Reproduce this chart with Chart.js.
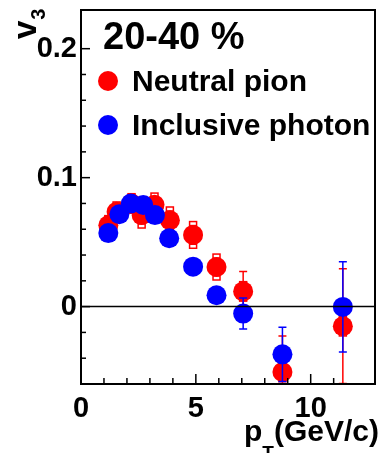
<!DOCTYPE html>
<html>
<head>
<meta charset="utf-8">
<script src="https://cdn.jsdelivr.net/npm/chart.js@4/dist/chart.umd.min.js"></script>
<style>
  html, body { margin: 0; padding: 0; background: #fff; }
  #wrap { width: 386px; height: 453px; }
</style>
</head>
<body>
<div id="wrap"><canvas id="v3Chart"></canvas></div>
<script>
// neutral pion v3 (20-40 %)
var pionPt = [1.19, 1.55, 2.2, 2.64, 3.2, 3.87, 4.88, 5.9, 7.06, 8.77, 11.4];
var pionV3 = [0.063, 0.0736, 0.080, 0.071, 0.079, 0.067, 0.0556, 0.0307, 0.0118, -0.0507, -0.0152];
var pionErr = [0.002, 0.002, 0.002, 0.002, 0.002, 0.003, 0.003, 0.004, 0.0154, 0.028, 0.0445];
var pionSys = [0.006, 0.006, 0.006, 0.0085, 0.0075, 0.0087, 0.0088, 0.0085, 0.006, 0.006, 0.006];

// inclusive photon v3
var photonPt = [1.19, 1.67, 2.17, 2.71, 3.22, 3.84, 4.88, 5.9, 7.06, 8.77, 11.4];
var photonV3 = [0.057, 0.0716, 0.080, 0.0788, 0.071, 0.053, 0.031, 0.0088, -0.0054, -0.037, -0.0002];
var photonErr = [0.002, 0.002, 0.002, 0.002, 0.002, 0.003, 0.003, 0.003, 0.012, 0.021, 0.035];

var xLabels = [0, 5, 10];
var yLabels = [0, 0.1, 0.2];

var FONT = "'Liberation Sans', Arial, Helvetica, sans-serif";

function toPoints(xs, ys, es, ss) {
    return xs.map(function (x, i) {
        return { x: x, y: ys[i], ey: es[i], sys: ss ? ss[i] : 0 };
    });
}

function near(v, list) {
    return list.some(function (l) { return Math.abs(v - l) < 1e-6; });
}

// error bars + systematic boxes, drawn just before each dataset's markers
const errorBars = {
    id: 'errorBars',
    beforeDatasetDraw(chart, args) {
        const ctx = chart.ctx;
        const ds = chart.data.datasets[args.index];
        const xs = chart.scales.x, ys = chart.scales.y;
        const area = chart.chartArea;
        ctx.save();
        ctx.beginPath();
        ctx.rect(area.left, area.top, area.right - area.left, area.bottom - area.top);
        ctx.clip();
        ctx.strokeStyle = ds.backgroundColor;
        ctx.lineWidth = 1.5;
        ds.data.forEach(function (p) {
            const px = xs.getPixelForValue(p.x);
            const top = ys.getPixelForValue(p.y + p.ey);
            const bot = ys.getPixelForValue(p.y - p.ey);
            ctx.beginPath();
            ctx.moveTo(px, top); ctx.lineTo(px, bot);
            ctx.moveTo(px - 4, top); ctx.lineTo(px + 4, top);
            ctx.moveTo(px - 4, bot); ctx.lineTo(px + 4, bot);
            ctx.stroke();
            if (p.sys) {
                [p.y + p.sys, p.y - p.sys].forEach(function (v) {
                    const py = ys.getPixelForValue(v);
                    ctx.fillStyle = '#fff';
                    ctx.fillRect(px - 3.5, py - 2, 7, 4);
                    ctx.strokeRect(px - 3.5, py - 2, 7, 4);
                });
            }
        });
        ctx.restore();
    }
};

// frame, inward ticks, zero line, titles, legend
const decorations = {
    id: 'decorations',
    afterDraw(chart) {
        const ctx = chart.ctx;
        const a = chart.chartArea;
        const xs = chart.scales.x, ys = chart.scales.y;
        ctx.save();
        ctx.strokeStyle = '#000';

        // zero line
        ctx.lineWidth = 1.5;
        const y0 = ys.getPixelForValue(0);
        ctx.beginPath(); ctx.moveTo(a.left, y0); ctx.lineTo(a.right, y0); ctx.stroke();

        // ticks
        ctx.lineWidth = 1.5;
        ys.ticks.forEach(function (t) {
            if (t.value <= ys.min + 1e-9 || t.value >= ys.max - 1e-9) return;
            const py = ys.getPixelForValue(t.value);
            const len = near(t.value, yLabels) ? 9 : 5;
            ctx.beginPath(); ctx.moveTo(a.left, py); ctx.lineTo(a.left + len, py); ctx.stroke();
        });
        xs.ticks.forEach(function (t) {
            if (t.value <= xs.min + 1e-9 || t.value >= xs.max - 1e-9) return;
            const px = xs.getPixelForValue(t.value);
            const len = near(t.value, xLabels) ? 10 : 6;
            ctx.beginPath(); ctx.moveTo(px, a.bottom); ctx.lineTo(px, a.bottom - len); ctx.stroke();
        });

        // frame
        ctx.lineWidth = 2;
        ctx.strokeRect(a.left, a.top, a.right - a.left, a.bottom - a.top);

        ctx.fillStyle = '#000';
        ctx.textBaseline = 'alphabetic';

        // header text
        ctx.font = 'bold 38px ' + FONT;
        ctx.textAlign = 'left';
        ctx.fillText('20-40 %', 103, 49);

        // legend
        ctx.font = 'bold 30px ' + FONT;
        ctx.fillText('Neutral pion', 132, 91);
        ctx.fillText('Inclusive photon', 132, 135);
        ctx.fillStyle = '#ff0000';
        ctx.beginPath(); ctx.arc(108, 81, 10, 0, Math.PI * 2); ctx.fill();
        ctx.fillStyle = '#0000ff';
        ctx.beginPath(); ctx.arc(108, 125, 10, 0, Math.PI * 2); ctx.fill();

        // x title  p_T(GeV/c)
        ctx.fillStyle = '#000';
        ctx.textAlign = 'right';
        ctx.font = 'bold 30px ' + FONT;
        const rest = '(GeV/c)';
        ctx.fillText(rest, 379, 441);
        let xr = 379 - ctx.measureText(rest).width;
        ctx.font = 'bold 19px ' + FONT;
        ctx.fillText('T', xr, 459);
        xr -= ctx.measureText('T').width;
        ctx.font = 'bold 30px ' + FONT;
        ctx.fillText('p', xr, 441);

        // y title  v_3
        ctx.save();
        ctx.translate(36, 39);
        ctx.rotate(-Math.PI / 2);
        ctx.textAlign = 'left';
        ctx.font = 'bold 33px ' + FONT;
        ctx.fillText('v', 0, 0);
        const vw = ctx.measureText('v').width;
        ctx.font = 'bold 20px ' + FONT;
        ctx.fillText('3', vw + 1, 9);
        ctx.restore();

        ctx.restore();
    }
};

const ctx = document.getElementById('v3Chart').getContext('2d');
const chart = new Chart(ctx, {
    type: 'scatter',
    data: {
        datasets: [{
            label: 'Neutral pion',
            data: toPoints(pionPt, pionV3, pionErr, pionSys),
            backgroundColor: '#ff0000',
            borderWidth: 0,
            pointRadius: 10,
            order: 2
        }, {
            label: 'Inclusive photon',
            data: toPoints(photonPt, photonV3, photonErr, null),
            backgroundColor: '#0000ff',
            borderWidth: 0,
            pointRadius: 10,
            order: 1
        }]
    },
    options: {
        responsive: true,
        maintainAspectRatio: false,
        animation: false,
        layout: { padding: { left: 0, top: 10, right: 11, bottom: 0 } },
        plugins: { legend: { display: false }, tooltip: { enabled: false } },
        scales: {
            x: {
                type: 'linear', min: 0, max: 12.8,
                grid: { display: false, drawTicks: false },
                border: { display: false },
                afterFit: function (s) { s.height = 69; s.paddingLeft = 0; s.paddingRight = 0; },
                ticks: {
                    stepSize: 1, autoSkip: false, maxRotation: 0, padding: 8,
                    color: '#000',
                    font: { family: FONT, size: 29, weight: 'bold' },
                    callback: function (v) { return near(v, xLabels) ? String(v) : ''; }
                }
            },
            y: {
                type: 'linear', min: -0.06, max: 0.23,
                grid: { display: false, drawTicks: false },
                border: { display: false },
                afterFit: function (s) { s.width = 81; s.paddingTop = 0; s.paddingBottom = 0; },
                ticks: {
                    stepSize: 0.02, autoSkip: false, padding: 4,
                    color: '#000',
                    font: { family: FONT, size: 29, weight: 'bold' },
                    callback: function (v) { return near(v, yLabels) ? String(Math.round(v * 10) / 10) : ''; }
                }
            }
        }
    },
    plugins: [errorBars, decorations]
});
</script>
</body>
</html>
